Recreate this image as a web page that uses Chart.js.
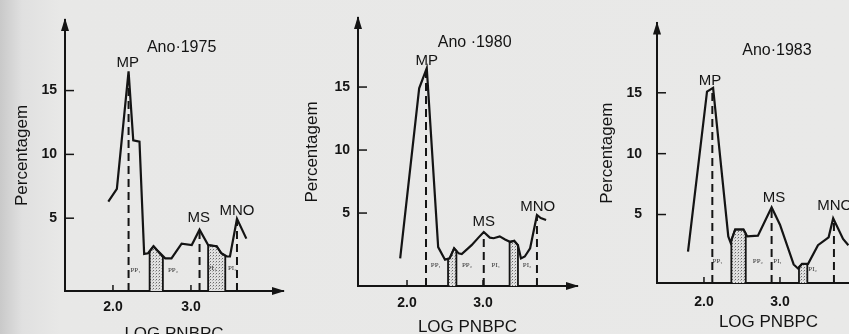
<!DOCTYPE html>
<html>
<head>
<meta charset="utf-8">
<script src="https://cdn.jsdelivr.net/npm/chart.js@4.4.1/dist/chart.umd.min.js"></script>
<style>
  html, body { margin: 0; padding: 0; width: 849px; height: 334px; overflow: hidden; }
  body { position: relative; background: linear-gradient(to right, #c9c9c9 0px, #e0e0e0 22px, #e8e8e7 60px, #e9e9e8 100%); }
  canvas { position: absolute; top: 0; }
</style>
</head>
<body>
<canvas id="c1975"></canvas>
<canvas id="c1980"></canvas>
<canvas id="c1983"></canvas>
<script>
// ---- data (x = LOG PNBPC, y = Percentagem) ----
const Y_TICKS = [5, 10, 15];
const X_TICKS = [2.0, 3.0];
const PEAK_NAMES = ["MP", "MS", "MNO"];
const GROUP_NAMES = ["PP\u2081", "PP\u2082", "PI\u2081", "PI\u2082"];

// Ano 1975
const curveX1975 = [1.94, 2.05, 2.20, 2.26, 2.34, 2.40, 2.45, 2.52, 2.58, 2.67, 2.75, 2.88, 3.01, 3.11, 3.22, 3.33, 3.39, 3.46, 3.50, 3.59, 3.71];
const curveY1975 = [6.3, 7.3, 16.5, 11.1, 11.0, 2.2, 2.25, 2.8, 2.4, 1.85, 1.85, 3.0, 2.9, 4.1, 2.9, 2.8, 2.25, 2.0, 2.0, 4.95, 3.4];
const peakX1975 = [2.20, 3.11, 3.59];
const peakY1975 = [16.5, 4.1, 4.95];
const shadeAX1975 = [2.47, 2.52, 2.58, 2.64];
const shadeAY1975 = [2.4, 2.8, 2.4, 1.95];
const shadeBX1975 = [3.22, 3.33, 3.39, 3.44];
const shadeBY1975 = [2.9, 2.8, 2.25, 2.05];

// Ano 1980
const curveX1980 = [1.91, 2.16, 2.26, 2.41, 2.50, 2.56, 2.62, 2.68, 2.72, 2.85, 2.94, 3.01, 3.09, 3.14, 3.22, 3.29, 3.36, 3.41, 3.46, 3.50, 3.55, 3.62, 3.71, 3.76, 3.83];
const curveY1980 = [1.4, 14.9, 16.5, 2.3, 1.3, 1.4, 2.2, 1.8, 1.75, 2.45, 3.05, 3.5, 3.05, 3.0, 3.15, 2.9, 2.7, 2.8, 2.45, 1.4, 1.55, 2.2, 4.85, 4.6, 4.45];
const peakX1980 = [2.25, 3.01, 3.71];
const peakY1980 = [16.4, 3.5, 4.85];
const shadeAX1980 = [2.54, 2.56, 2.62, 2.65];
const shadeAY1980 = [1.35, 1.4, 2.2, 2.0];
const shadeBX1980 = [3.35, 3.41, 3.46];
const shadeBY1980 = [2.72, 2.8, 2.45];

// Ano 1983
const curveX1983 = [1.79, 2.04, 2.12, 2.32, 2.35, 2.41, 2.52, 2.57, 2.71, 2.89, 3.00, 3.18, 3.24, 3.29, 3.37, 3.50, 3.64, 3.70, 3.83, 3.90];
const curveY1983 = [1.95, 15.1, 15.4, 3.2, 2.7, 3.77, 3.77, 3.2, 3.26, 5.6, 4.16, 0.9, 0.55, 0.95, 0.95, 2.48, 3.13, 4.7, 3.0, 2.48];
const peakX1983 = [2.11, 2.89, 3.71];
const peakY1983 = [15.3, 5.6, 4.7];
const shadeAX1983 = [2.36, 2.41, 2.52, 2.55];
const shadeAY1983 = [2.9, 3.77, 3.77, 3.45];
const shadeBX1983 = [3.25, 3.29, 3.36];
const shadeBY1983 = [0.7, 0.95, 0.95];

//------------------------------------------

const INK = "#141414";
const FONT = "'Liberation Sans', Arial, Helvetica, sans-serif";
Chart.defaults.font.family = FONT;
Chart.defaults.color = INK;

// stipple pattern for the shaded bands
function stipple() {
  const c = document.createElement("canvas");
  c.width = 3; c.height = 3;
  const g = c.getContext("2d");
  g.fillStyle = "#e0e0e0";
  g.fillRect(0, 0, 3, 3);
  g.fillStyle = "#6a6a6a";
  g.fillRect(0, 0, 1, 1);
  g.fillStyle = "#b0b0b0";
  g.fillRect(2, 1, 1, 1);
  return g.createPattern(c, "repeat");
}
const DOTS = stipple();

const pts = (xs, ys) => xs.map((x, i) => ({x: x, y: ys[i]}));

//decoration plugin: arrows, inward ticks, text labels
const decor = {
  id: "decor",
  afterDraw(chart, args, o) {
    const {ctx, chartArea: a, scales: {x, y}} = chart;
    ctx.save();
    ctx.fillStyle = INK;
    ctx.strokeStyle = INK;
    ctx.lineWidth = 2;

    // arrow heads
    ctx.beginPath();
    ctx.moveTo(a.left, a.top - 2);
    ctx.lineTo(a.left - 4, a.top + 11);
    ctx.lineTo(a.left + 4, a.top + 11);
    ctx.closePath();
    ctx.fill();
    ctx.beginPath();
    ctx.moveTo(a.right + 2, a.bottom);
    ctx.lineTo(a.right - 11, a.bottom - 4);
    ctx.lineTo(a.right - 11, a.bottom + 4);
    ctx.closePath();
    ctx.fill();

    // ticks point into the plot
    ctx.lineWidth = 1.5;
    Y_TICKS.forEach(v => {
      const py = y.getPixelForValue(v);
      ctx.beginPath(); ctx.moveTo(a.left, py); ctx.lineTo(a.left + 9, py); ctx.stroke();
    });
    X_TICKS.forEach(v => {
      const px = x.getPixelForValue(v);
      ctx.beginPath(); ctx.moveTo(px, a.bottom); ctx.lineTo(px, a.bottom - 6); ctx.stroke();
    });

    ctx.textAlign = "center";
    ctx.textBaseline = "middle";
    ctx.font = "16px " + FONT;
    ctx.fillText(o.title[0], x.getPixelForValue(o.title[1]), y.getPixelForValue(o.title[2]));

    ctx.font = "15px " + FONT;
    PEAK_NAMES.forEach((t, i) => {
      ctx.fillText(t, x.getPixelForValue(o.peakLabelX[i]), y.getPixelForValue(o.peakLabelY[i]));
    });

    ctx.font = "7px 'Liberation Serif', serif";
    ctx.fillStyle = "#333";
    GROUP_NAMES.forEach((t, i) => {
      ctx.fillText(t, x.getPixelForValue(o.groupX[i]), y.getPixelForValue(o.groupY[i]));
    });
    ctx.restore();
  }
};

function build(id, p) {
  const canvas = document.getElementById(id);
  const width = p.yw + p.areaW + 12;
  canvas.width = width;
  canvas.height = 350;
  canvas.style.left = p.left + "px";

  const band = (xs, ys) => ({
    data: [{x: xs[0], y: p.yMin}].concat(pts(xs, ys), [{x: xs[xs.length - 1], y: p.yMin}]),
    borderColor: INK, borderWidth: 1.8, backgroundColor: DOTS, fill: "start",
    pointRadius: 0, tension: 0, order: 3
  });
  const marker = (i) => ({
    data: [{x: p.peakX[i], y: p.yMin}, {x: p.peakX[i], y: p.peakY[i]}],
    borderColor: INK, borderWidth: 2, borderDash: [8, 5], pointRadius: 0, fill: false, order: 2
  });

  return new Chart(canvas, {
    type: "line",
    data: {
      datasets: [
        {data: pts(p.curveX, p.curveY), borderColor: INK, borderWidth: 2.2, pointRadius: 0,
         tension: 0, fill: false, order: 1, borderJoinStyle: "miter"},
        marker(0), marker(1), marker(2),
        band(p.shadeAX, p.shadeAY), band(p.shadeBX, p.shadeBY)
      ]
    },
    options: {
      responsive: false,
      animation: false,
      layout: {padding: {left: 0, top: p.top, right: 12, bottom: 0}},
      plugins: {
        legend: {display: false},
        tooltip: {enabled: false},
        decor: {title: p.title, peakLabelX: p.peakLabelX, peakLabelY: p.peakLabelY, groupX: p.groupX, groupY: p.groupY}
      },
      scales: {
        x: {
          type: "linear", min: p.xMin, max: p.xMax,
          afterBuildTicks: s => { s.ticks = X_TICKS.map(v => ({value: v})); },
          afterFit: s => { s.height = 350 - p.bottom; },
          grid: {display: true, drawOnChartArea: false, drawTicks: false},
          border: {display: true, color: INK, width: 2},
          ticks: {callback: v => v.toFixed(1), color: INK, padding: p.xTickPad, maxRotation: 0,
                  font: {size: 14, weight: "bold"}},
          title: {display: true, text: "LOG PNBPC", color: INK, font: {size: 17},
                  padding: {top: 0, bottom: p.xTitlePad}}
        },
        y: {
          type: "linear", min: p.yMin, max: p.yMax,
          afterBuildTicks: s => { s.ticks = Y_TICKS.map(v => ({value: v})); },
          afterFit: s => { s.width = p.yw; },
          grid: {display: true, drawOnChartArea: false, drawTicks: false},
          border: {display: true, color: INK, width: 2},
          ticks: {color: INK, padding: p.yTickPad, font: {size: 14, weight: "bold"}},
          title: {display: true, text: "Percentagem", color: INK, font: {size: 17},
                  padding: {top: 0, bottom: 0}}
        }
      }
    },
    plugins: [decor]
  });
}

build("c1975", {
  left: 12, yw: 53, top: 20, bottom: 291, areaW: 218,
  xMin: 1.385, xMax: 4.18, yMin: -0.705, yMax: 20.53,
  yTickPad: 8, xTickPad: 7.6, xTitlePad: 5.8,
  curveX: curveX1975, curveY: curveY1975, peakX: peakX1975, peakY: peakY1975,
  shadeAX: shadeAX1975, shadeAY: shadeAY1975, shadeBX: shadeBX1975, shadeBY: shadeBY1975,
  title: ["Ano\u00b71975", 2.88, 18.4],
  peakLabelX: [2.19, 3.10, 3.59], peakLabelY: [17.2, 5.0, 5.6],
  groupX: [2.29, 2.77, 3.27, 3.53], groupY: [0.94, 0.94, 1.1, 1.1]
});

build("c1980", {
  left: 302, yw: 56, top: 18, bottom: 286, areaW: 219,
  xMin: 1.355, xMax: 4.237, yMin: -0.79, yMax: 20.48,
  yTickPad: 8, xTickPad: 8.6, xTitlePad: 12.8,
  curveX: curveX1980, curveY: curveY1980, peakX: peakX1980, peakY: peakY1980,
  shadeAX: shadeAX1980, shadeAY: shadeAY1980, shadeBX: shadeBX1980, shadeBY: shadeBY1980,
  title: ["Ano \u00b71980", 2.89, 18.5],
  peakLabelX: [2.26, 3.01, 3.72], peakLabelY: [17.1, 4.3, 5.5],
  groupX: [2.38, 2.79, 3.17, 3.58], groupY: [0.87, 0.87, 0.87, 0.87]
});

build("c1983", {
  left: 597, yw: 60, top: 10, bottom: 283, areaW: 223,
  xMin: 1.382, xMax: 4.316, yMin: -0.625, yMax: 20.7,
  yTickPad: 15, xTickPad: 10.6, xTitlePad: 17.8,
  curveX: curveX1983, curveY: curveY1983, peakX: peakX1983, peakY: peakY1983,
  shadeAX: shadeAX1983, shadeAY: shadeAY1983, shadeBX: shadeBX1983, shadeBY: shadeBY1983,
  title: ["Ano\u00b71983", 2.96, 18.5],
  peakLabelX: [2.08, 2.92, 3.72], peakLabelY: [16.0, 6.4, 5.7],
  groupX: [2.18, 2.71, 2.97, 3.43], groupY: [1.17, 1.17, 1.17, 0.55]
});
</script>
</body>
</html>
